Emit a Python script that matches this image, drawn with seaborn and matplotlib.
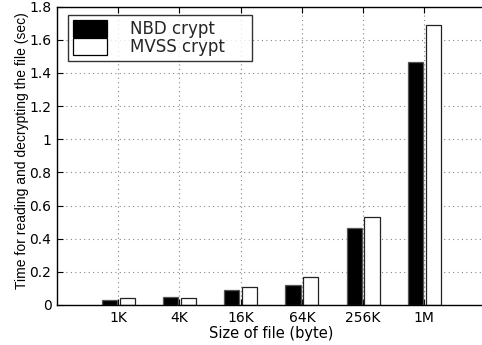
import matplotlib
matplotlib.use("Agg")
import matplotlib.pyplot as plt
import seaborn as sns
import pandas as pd

sizes = ["1K", "4K", "16K", "64K", "256K", "1M"]
nbd_crypt = [0.030, 0.050, 0.091, 0.120, 0.463, 1.469]
mvss_crypt = [0.040, 0.040, 0.110, 0.171, 0.530, 1.690]
series = ["NBD crypt", "MVSS crypt"]
yticks = [0, 0.2, 0.4, 0.6, 0.8, 1, 1.2, 1.4, 1.6, 1.8]
ytick_labels = ["0", "0.2", "0.4", "0.6", "0.8", "1", "1.2", "1.4", "1.6", "1.8"]

df = pd.DataFrame({
    "size": sizes * 2,
    "time": nbd_crypt + mvss_crypt,
    "method": [series[0]] * len(sizes) + [series[1]] * len(sizes),
})

sns.set_theme(style="white")
plt.rcParams["font.family"] = ["DejaVu Sans"]

W, H = 482, 345
fig = plt.figure(figsize=(W / 100, H / 100), dpi=100)
left, right, top, bottom = 57, 485.6, 6.7, 305
ax = fig.add_axes([left / W, 1 - bottom / H, (right - left) / W, (bottom - top) / H])

sns.barplot(data=df, x="size", y="time", hue="method", order=sizes,
            hue_order=series, palette=["black", "white"], width=0.58, gap=0.15,
            edgecolor="#555555", linewidth=0.9, saturation=1, errorbar=None,
            ax=ax)
# darker outline on the white bars
for p in ax.patches[len(sizes):2 * len(sizes)]:
    p.set_edgecolor("#222222")

ax.set_xlim(-1, 6)
ax.set_ylim(0, 1.8)
ax.set_yticks(yticks)
ax.set_yticklabels(ytick_labels)
ax.set_axisbelow(True)
ax.grid(True, linestyle=(0, (1, 3)), color="#888888", linewidth=0.8)

for side in ["left", "bottom", "top"]:
    ax.spines[side].set_visible(True)
    ax.spines[side].set_color("black")
    ax.spines[side].set_linewidth(1.0)
ax.spines["right"].set_visible(False)

ax.tick_params(axis="both", direction="in", length=4, width=0.8, color="black",
               labelsize=10, labelcolor="black", top=True, left=True,
               bottom=True, pad=4)

ax.set_xlabel("Size of file (byte)", fontsize=10.5, color="black", labelpad=1)
ax.set_ylabel("Time for reading and decrypting the file (sec)", fontsize=10,
              family=["Liberation Sans", "DejaVu Sans"], color="black")
ax.yaxis.set_label_coords(-0.066, 0.516)

fs = 12
fs_px = fs * 100 / 72
handles, labels = ax.get_legend_handles_labels()
leg = ax.legend(handles, labels, loc="upper left",
                bbox_to_anchor=(68.3 / W, 1 - 64 / H, (252.3 - 68.3) / W, 49.3 / H),
                bbox_transform=fig.transFigure, borderaxespad=0, mode="expand",
                fontsize=fs, frameon=True, fancybox=False, shadow=False,
                handlelength=34 / fs_px, handleheight=1.2,
                labelspacing=0.0, handletextpad=23 / fs_px, borderpad=0.3)
leg.get_frame().set_edgecolor("black")
leg.get_frame().set_linewidth(1.0)
for h in leg.legend_handles:
    h.set_edgecolor("black")

fig.savefig("out.png", dpi=100)
